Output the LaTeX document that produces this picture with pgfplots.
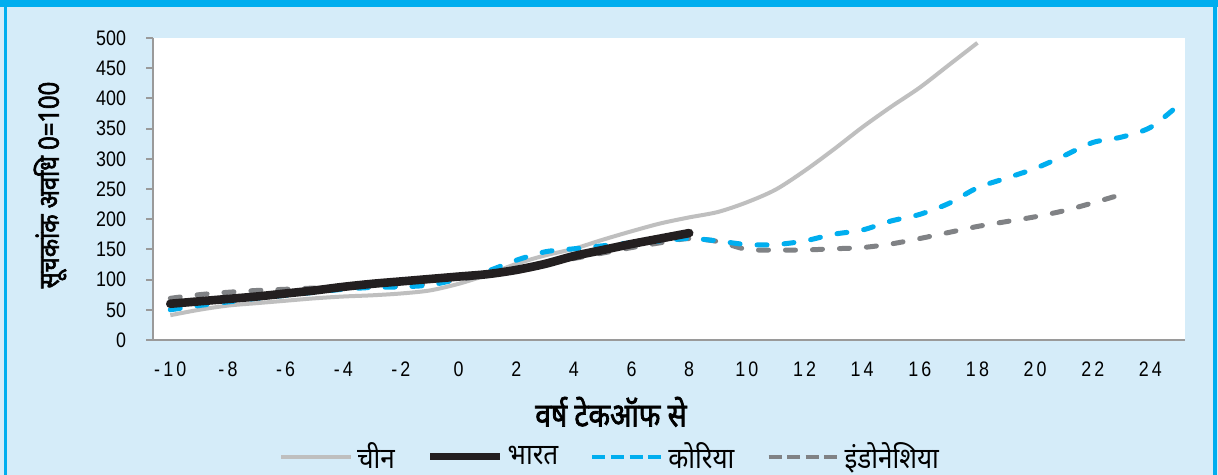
\documentclass[border=0pt]{standalone}
\usepackage{fontspec}
\usepackage{pgfplots}
\usepackage{pgfplotstable}
\pgfplotsset{compat=1.18}

\setmainfont{Liberation Sans}[FakeStretch=0.85]
\newfontfamily\devfont[Script=Devanagari,FakeStretch=0.9]{Noto Sans}
\newfontfamily\devbold[Script=Devanagari,FakeStretch=0.85,FakeBold=2.2]{Noto Sans}

\definecolor{framebg}{HTML}{D5ECF9}
\definecolor{framebar}{HTML}{00AEEF}
\definecolor{axisgray}{HTML}{9A9A9A}
\definecolor{chinagray}{HTML}{BFBFBF}
\definecolor{indiablack}{HTML}{231F20}
\definecolor{koreablue}{HTML}{00AEEF}
\definecolor{indogray}{HTML}{808285}

% index, period 0 = 100, by years from take-off
\pgfplotstableread{
year val
-10 41
-9 50
-8 57
-7 61
-6 65
-5 69
-4 72
-3 74
-2 77
-1 82
0 93
1 108
2 126
3 140
4 151
5 166
6 180
7 193
8 203
9 212
10 228
11 249
12 280
13 315
14 352
15 386
16 418
17 455
18 492
}\tabChina

\pgfplotstableread{
year val
-10 60
-9 64
-8 68
-7 72
-6 77
-5 82
-4 88
-3 93
-2 97
-1 101
0 105
1 109
2 116
3 126
4 139
5 149
6 159
7 168
8 177
}\tabIndia

\pgfplotstableread{
year val
-10 50
-9 57
-8 63
-7 69
-6 74
-5 79
-4 84
-3 87
-2 88
-1 91
0 101
1 114
2 132
3 146
4 151
5 156
6 161
7 164
8 168
9 164
10 158
11 158
12 164
13 175
14 182
15 197
16 208
17 226
18 252
19 268
20 284
21 305
22 327
23 336
24 352
25 390
}\tabKorea

\pgfplotstableread{
year val
-10 69
-9 75
-8 79
-7 82
-6 84
-5 86
-4 87
-3 88
-2 90
-1 94
0 100
1 108
2 118
3 128
4 135
5 144
6 153
7 161
8 168
9 163
10 150
11 149
12 149
13 151
14 153
15 159
16 168
17 178
18 188
19 196
20 204
21 214
22 227
23 241
}\tabIndonesia

\begin{document}
\begin{tikzpicture}[x=1pt,y=1pt]
  \path[use as bounding box] (0,0) rectangle (609,237.5);
  % panel
  \fill[framebg] (0,0) rectangle (609,237.5);
  \fill[framebar] (0,234) rectangle (609,237.5);
  \fill[framebar] (2,0) rectangle (3.5,234);
  \fill[framebar] (606.5,0) rectangle (608.5,234);

  \begin{axis}[
    at={(76.5pt,67.5pt)}, anchor=south west,
    scale only axis, width=516pt, height=151pt,
    xmin=-10.6, xmax=25.2, ymin=0, ymax=500,
    axis x line*=bottom, axis y line*=left,
    axis line style={draw=axisgray, line width=1.2pt, -},
    axis background/.style={fill=white},
    xtick={-10,-8,...,24},
    xticklabels={-10,-8,-6,-4,-2,0,2,4,6,8,10,12,14,16,18,20,22,24},
    ytick={0,50,...,500},
    yticklabels={0,50,100,150,200,250,300,350,400,450,500},
    tick align=outside, major tick length=3.5pt,
    x tick style={draw=none},
    y tick style={draw=axisgray, line width=1pt},
    yticklabel style={font=\fontsize{10.5}{12}\selectfont, text=black, xshift=-6.5pt},
    xticklabel style={font=\fontsize{10.5}{12}\selectfont\addfontfeature{LetterSpace=15}, text=black, yshift=-4pt},
    xlabel={\devbold\fontsize{16.5}{18}\selectfont वर्ष टेकऑफ से},
    xlabel style={at={(axis description cs:0.4438,-0.238)}, anchor=center},
    ylabel={\devbold\fontsize{14}{16}\selectfont सूचकांक अवधि 0=100},
    ylabel style={at={(axis description cs:-0.0998,0.513)}, anchor=center},
    legend columns=4,
    legend image code/.code={\draw[#1] (0pt,0pt) -- (35pt,0pt);},
    legend style={at={(axis description cs:0.4438,-0.387)}, anchor=center,
      draw=none, fill=none, inner sep=0pt,
      font=\devfont\fontsize{14.5}{16}\selectfont,
      /tikz/every even column/.append style={column sep=14pt}},
  ]
    \addlegendimage{chinagray, line width=2pt}
    \addlegendentry{चीन}
    \addlegendimage{indiablack, line width=3.4pt}
    \addlegendentry{भारत}
    \addlegendimage{koreablue, line width=2pt, dash pattern=on 6.5pt off 2.8pt}
    \addlegendentry{कोरिया}
    \addlegendimage{indogray, line width=2pt, dash pattern=on 6.5pt off 2.8pt}
    \addlegendentry{इंडोनेशिया}

    \addplot[forget plot, smooth, no markers, draw=chinagray, line width=2pt]
      table[x=year, y=val] {\tabChina};
    \addplot[forget plot, smooth, no markers, draw=indogray, line width=2.5pt,
      line cap=round, dash pattern=on 5pt off 8.5pt]
      table[x=year, y=val] {\tabIndonesia};
    \addplot[forget plot, smooth, no markers, draw=koreablue, line width=2.5pt,
      line cap=round, dash pattern=on 5pt off 8.5pt]
      table[x=year, y=val] {\tabKorea};
    \addplot[forget plot, smooth, no markers, draw=indiablack, line width=4.3pt,
      line cap=round]
      table[x=year, y=val] {\tabIndia};
  \end{axis}
\end{tikzpicture}
\end{document}
